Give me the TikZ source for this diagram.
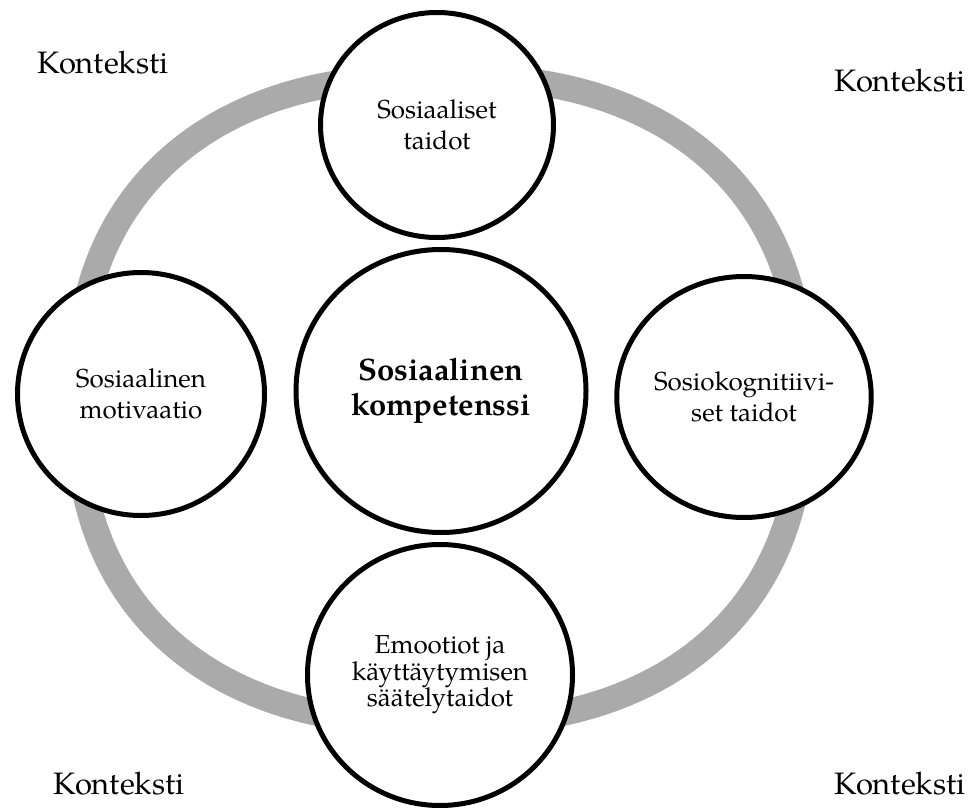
\documentclass[tikz,border=0pt]{standalone}
\usepackage{fontspec}
\setmainfont{TeX Gyre Pagella}
\usetikzlibrary{shapes.geometric}
\definecolor{ringgray}{RGB}{170,170,170}
\begin{document}
\begin{tikzpicture}[x=0.5pt,y=-0.5pt,
  bubble/.style={draw=black, line width=2.5pt, fill=white, ellipse, inner sep=0pt, align=center, font=\fontsize{13}{15.5}\selectfont},
  ctx/.style={font=\fontsize{15.5}{18}\selectfont, inner sep=0pt, anchor=base west}]
\useasboundingbox (0,0) rectangle (974,808);
% ring: superellipse (exponent 2.35)
\draw[ringgray, line width=13pt, line join=round]
  plot[domain=0.5:359.5, samples=360]
  ({440 + 363*cos(\x)*abs(cos(\x))^(-0.149)}, {400 + 324*sin(\x)*abs(sin(\x))^(-0.149)}) -- cycle;
\node[bubble, minimum width=116.5pt, minimum height=112.5pt] (top) at (437,125) {Sosiaaliset\\taidot};
\node[bubble, minimum width=145pt, minimum height=141.5pt, font=\fontsize{15.5}{17.5}\selectfont\bfseries] (mid) at (441,391) {Sosiaalinen\\kompetenssi};
\node[bubble, minimum width=123.5pt, minimum height=121.5pt] (left) at (141,394) {Sosiaalinen\\motivaatio};
\node[bubble, minimum width=124.5pt, minimum height=120.5pt] (right) at (744,397) {Sosiokognitiivi-\\set taidot};
\node[bubble, minimum width=132.5pt, minimum height=130.5pt, font=\fontsize{13}{13.3}\selectfont] (bottom) at (440,675) {Emootiot ja\\käyttäytymisen\\säätelytaidot};
\node[ctx] (ctxtl) at (37,74) {Konteksti};
\node[ctx] (ctxtr) at (834,91) {Konteksti};
\node[ctx] (ctxbl) at (53,794) {Konteksti};
\node[ctx] (ctxbr) at (834,794) {Konteksti};
\end{tikzpicture}
\end{document}
